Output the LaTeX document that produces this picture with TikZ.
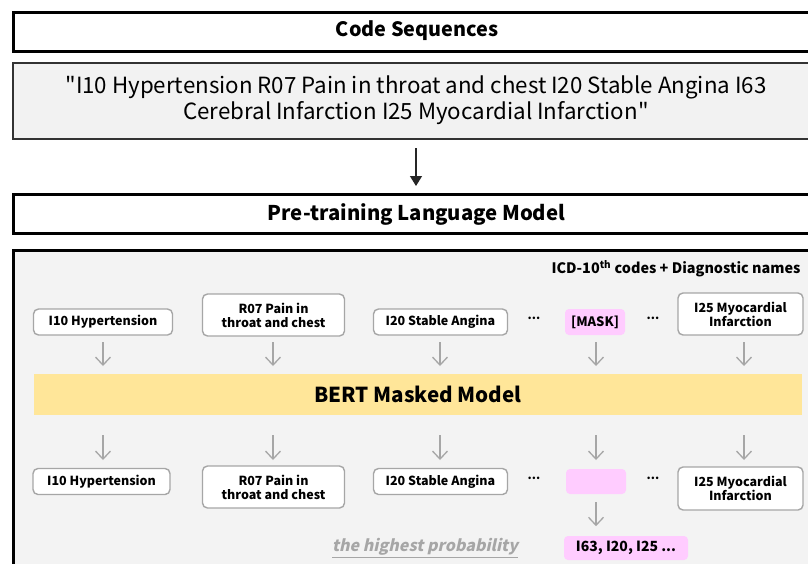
\documentclass[tikz,border=0pt]{standalone}
\usepackage{fontspec}
\setmainfont{Noto Sans CJK KR}
\newfontfamily\hintfont{Noto Sans CJK KR}[FakeSlant=0.22]
\newfontfamily\plainquote{Noto Sans CJK KR}[Ligatures=TeXOff]
\usetikzlibrary{arrows.meta}
\definecolor{panelgray}{HTML}{F3F3F3}
\definecolor{quotegray}{HTML}{F2F2F2}
\definecolor{tokenedge}{HTML}{A6A6A6}
\definecolor{maskpink}{HTML}{FFCCFF}
\definecolor{bertyellow}{HTML}{FFE699}
\definecolor{arrowgray}{HTML}{A6A6A6}
\tikzset{
  token/.style={draw=tokenedge, line width=1.4pt, fill=white, rounded corners=5pt,
    font=\bfseries\fontsize{12.5}{14}\selectfont, align=center, inner sep=0pt},
  maskbox/.style={fill=maskpink, rounded corners=4pt,
    font=\bfseries\fontsize{13}{15}\selectfont, inner sep=0pt},
  dotsl/.style={font=\bfseries\fontsize{12}{14}\selectfont, inner sep=0pt},
  flow/.style={draw=arrowgray, line width=1.3pt,
    -{Straight Barb[length=8pt,width=15pt,line width=1.3pt]}},
}
\begin{document}
\begin{tikzpicture}[x=1pt,y=-1pt]
\useasboundingbox (0,0) rectangle (808,563);
\clip (0,0) rectangle (808,563);
\fill[white] (0,0) rectangle (808,563);

% header bars
\draw[black, line width=3pt, fill=white] (13.5,12.5) rectangle (840,51);
\node[font=\bfseries\fontsize{19.8}{22}\selectfont] (codeseq) at (417,31) {Code Sequences};

\draw[black!80, line width=2pt, fill=quotegray] (13,62.5) rectangle (840,139);
\node[font=\plainquote\fontsize{22.3}{26}\selectfont, align=center] (quote) at (416,100.5)
  {"I10 Hypertension R07 Pain in throat and chest I20 Stable Angina I63\\
   Cerebral Infarction I25 Myocardial Infarction"};

\coordinate (arrtop) at (416,148);
\draw[black!85, line width=1.3pt, -{Triangle[length=10pt,width=12pt]}] (arrtop) -- (416,186) coordinate (arrbot);

\draw[black, line width=3pt, fill=white] (13.5,194.5) rectangle (840,233.5);
\node[font=\bfseries\fontsize{20.3}{22}\selectfont] (pretrain) at (416.5,214) {Pre-training Language Model};

% model panel
\draw[black, line width=3pt, fill=panelgray] (13.5,250) rectangle (840,600);
\node[anchor=east, font=\bfseries\fontsize{14.4}{16}\selectfont] (legend) at (804,269)
  {ICD-10\textsuperscript{th} codes + Diagnostic names};

% input tokens
\node[token, minimum width=139pt, minimum height=26pt] (in1) at (103,322) {I10 Hypertension};
\node[token, minimum width=142pt, minimum height=42pt] (in2) at (273.5,315) {R07 Pain in\\throat and chest};
\node[token, minimum width=134pt, minimum height=26pt] (in3) at (440.5,322) {I20 Stable Angina};
\node[dotsl] (ind1) at (534,318) {...};
\node[maskbox, minimum width=60pt, minimum height=26pt] (in4) at (595,322) {[MASK]};
\node[dotsl] (ind2) at (653,318) {...};
\node[token, minimum width=125pt, minimum height=42pt] (in5) at (740.5,314) {I25 Myocardial\\Infarction};

% BERT band
\node[fill=bertyellow, minimum width=768pt, minimum height=41pt, inner sep=0pt,
  font=\bfseries\fontsize{20.6}{24}\selectfont] (bert) at (418,394.5) {BERT Masked Model};

% output tokens
\node[token, minimum width=137pt, minimum height=26pt] (out1) at (101.5,481.5) {I10 Hypertension};
\node[token, minimum width=142pt, minimum height=42pt] (out2) at (273.5,487) {R07 Pain in\\throat and chest};
\node[token, minimum width=134pt, minimum height=26pt] (out3) at (440.5,481.5) {I20 Stable Angina};
\node[dotsl] (outd1) at (534,478) {...};
\node[maskbox, minimum width=60pt, minimum height=25pt] (out4) at (596,481.5) {};
\node[dotsl] (outd2) at (653,478) {...};
\node[token, minimum width=125pt, minimum height=43pt] (out5) at (740.5,488.5) {I25 Myocardial\\Infarction};

\node[maskbox, minimum width=124pt, minimum height=24pt, font=\bfseries\fontsize{14}{16}\selectfont]
  (pred) at (626,548) {I63, I20, I25 ...};
\node[text=arrowgray, font=\hintfont\bfseries\fontsize{16}{18}\selectfont, inner sep=0pt] (hint) at (425,548)
  {\underline{the highest probability}};

% arrows into and out of the model
\foreach \x in {103,273,440,596,744}{
  \draw[flow] (\x,342) -- (\x,366);
  \draw[flow] (\x,435) -- (\x,460);
}
\draw[flow] (out4.south) ++(0,8) -- ++(0,24);
\end{tikzpicture}
\end{document}
